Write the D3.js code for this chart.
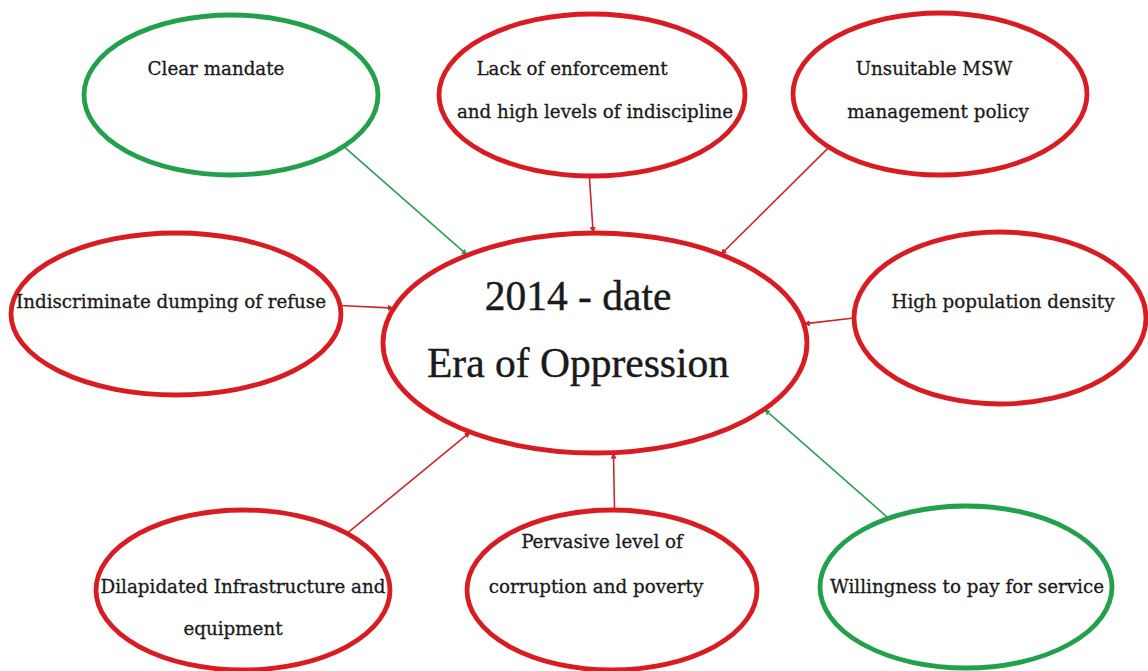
<!DOCTYPE html>
<html>
<head>
<meta charset="utf-8">
<script src="https://cdn.jsdelivr.net/npm/d3@7"></script>
<style>
  html, body { margin: 0; padding: 0; background: #fff; }
  svg text { fill: #1a1a1a; }
  .small { font-family: 'DejaVu Serif', serif; }
  .big { font-family: 'Liberation Serif', 'Times New Roman', serif; }
</style>
</head>
<body>
<div id="chart"></div>
<script>
// Factors around the central era, and whether each one helps (green) or hurts (red)
const centreLines = ['2014 - date', 'Era of Oppression'];
const factorLabels = [
  ['Clear mandate'],
  ['Lack of enforcement', 'and high levels of indiscipline'],
  ['Unsuitable MSW', 'management policy'],
  ['Indiscriminate dumping of refuse'],
  ['High population density'],
  ['Dilapidated Infrastructure and', 'equipment'],
  ['Pervasive level of', 'corruption and poverty'],
  ['Willingness to pay for service']
];
const factorEffect = ['positive', 'negative', 'negative', 'negative', 'negative', 'negative', 'negative', 'positive'];

// Layout of the bubbles (centre x/y, radii) and where each arrow leaves/meets an ellipse (degrees)
const centreShape = { cx: 595, cy: 343, rx: 212, ry: 110 };
const factorShapes = [
  { cx: 231, cy: 95, rx: 147, ry: 80, from: 40, to: -127, text: [{ dx: -15, y: 75 }] },
  { cx: 592, cy: 95, rx: 153, ry: 81, from: 91, to: -90.5, text: [{ dx: -20, y: 75 }, { dx: 3, y: 118 }] },
  { cx: 940, cy: 94, rx: 147, ry: 81, from: 139, to: -53.6, text: [{ dx: -6, y: 75 }, { dx: -2, y: 118 }] },
  { cx: 176, cy: 314, rx: 165, ry: 81, from: -6, to: -161.5, text: [{ dx: -5, y: 308 }] },
  { cx: 1000, cy: 318, rx: 146, ry: 86, from: 180, to: -10, text: [{ dx: 3, y: 308 }] },
  { cx: 243, cy: 590, rx: 147, ry: 80, from: -45, to: 126, text: [{ dx: 0, y: 593 }, { dx: -10, y: 635 }] },
  { cx: 612, cy: 590, rx: 145, ry: 80, from: -89, to: 85, text: [{ dx: -10, y: 548 }, { dx: -16, y: 593 }] },
  { cx: 966, cy: 587, rx: 146, ry: 81, from: -122, to: 37, text: [{ dx: 1, y: 593 }] }
];

const width = 1148;
const height = 671;

const colour = d3.scaleOrdinal()
  .domain(['positive', 'negative'])
  .range(['#23a04b', '#d81c22']);
const arrowColour = d3.scaleOrdinal()
  .domain(['positive', 'negative'])
  .range(['#2e9e57', '#c8282c']);

const svg = d3.select('#chart')
  .append('svg')
  .attr('width', width)
  .attr('height', height);

// arrowheads, one per colour
const defs = svg.append('defs');
colour.domain().forEach((k) => {
  defs.append('marker')
    .attr('id', 'head-' + k)
    .attr('viewBox', '0 -5 10 10')
    .attr('refX', 10)
    .attr('refY', 0)
    .attr('markerWidth', 6)
    .attr('markerHeight', 6)
    .attr('markerUnits', 'userSpaceOnUse')
    .attr('orient', 'auto')
    .append('path')
    .attr('d', 'M0,-5L10,0L0,5Z')
    .attr('fill', arrowColour(k));
});

// point on an ellipse at a parametric angle
const onEllipse = (e, deg) => {
  const t = deg * Math.PI / 180;
  return [e.cx + e.rx * Math.cos(t), e.cy + e.ry * Math.sin(t)];
};

const factors = factorLabels.map((lines, i) => ({
  lines,
  effect: factorEffect[i],
  shape: factorShapes[i]
}));

const line = d3.line();

// arrows go underneath the ellipses' outlines
svg.append('g')
  .selectAll('path')
  .data(factors)
  .join('path')
  .attr('d', (d) => line([onEllipse(d.shape, d.shape.from), onEllipse(centreShape, d.shape.to)]))
  .attr('fill', 'none')
  .attr('stroke', (d) => arrowColour(d.effect))
  .attr('stroke-width', 1.6)
  .attr('marker-end', (d) => `url(#head-${d.effect})`);

// factor bubbles
const bubble = svg.append('g')
  .selectAll('g')
  .data(factors)
  .join('g');

bubble.append('ellipse')
  .attr('cx', (d) => d.shape.cx)
  .attr('cy', (d) => d.shape.cy)
  .attr('rx', (d) => d.shape.rx)
  .attr('ry', (d) => d.shape.ry)
  .attr('fill', 'none')
  .attr('stroke', (d) => colour(d.effect))
  .attr('stroke-width', 4.8);

bubble.selectAll('text')
  .data((d) => d.lines.map((txt, j) => ({ txt, pos: d.shape.text[j], cx: d.shape.cx })))
  .join('text')
  .attr('class', 'small')
  .attr('x', (d) => d.cx + d.pos.dx)
  .attr('y', (d) => d.pos.y)
  .attr('text-anchor', 'middle')
  .attr('font-size', 18.3)
  .attr('stroke', '#1a1a1a')
  .attr('stroke-width', 0.3)
  .text((d) => d.txt);

// central era
svg.append('ellipse')
  .attr('cx', centreShape.cx)
  .attr('cy', centreShape.cy)
  .attr('rx', centreShape.rx)
  .attr('ry', centreShape.ry)
  .attr('fill', 'none')
  .attr('stroke', colour('negative'))
  .attr('stroke-width', 4.8);

svg.append('g')
  .selectAll('text')
  .data(centreLines)
  .join('text')
  .attr('class', 'big')
  .attr('x', centreShape.cx - 17)
  .attr('y', (d, i) => 310 + i * 67)
  .attr('text-anchor', 'middle')
  .attr('font-size', 41.5)
  .attr('stroke', '#1a1a1a')
  .attr('stroke-width', 0.4)
  .text((d) => d);
</script>
</body>
</html>
